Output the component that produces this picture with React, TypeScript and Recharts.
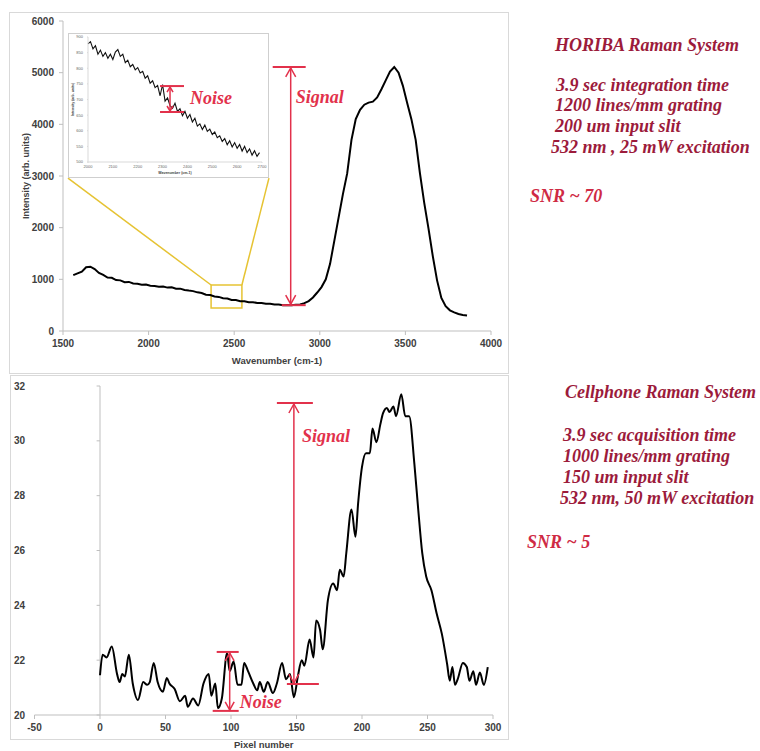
import React from 'react';
import { LineChart, Line, XAxis, YAxis, ReferenceLine, ReferenceArea } from 'recharts';

// HORIBA spectrum (wavenumber, intensity)
const horibaWavenumber = [
  1560, 1585, 1610, 1635, 1660, 1685, 1710, 1735, 1760, 1785, 1810, 1835, 1860, 1885, 1910, 1935,
  1960, 1985, 2010, 2035, 2060, 2085, 2110, 2135, 2160, 2185, 2210, 2235, 2260, 2285, 2310, 2335,
  2360, 2385, 2410, 2435, 2460, 2485, 2510, 2535, 2560, 2585, 2610, 2635, 2660, 2685, 2710, 2735,
  2760, 2785, 2810, 2835, 2860, 2885, 2910, 2935, 2960, 2985, 3010, 3035, 3060, 3085, 3110, 3135,
  3160, 3185, 3210, 3235, 3260, 3285, 3310, 3335, 3360, 3385, 3410, 3435, 3460, 3485, 3510, 3535,
  3560, 3585, 3610, 3635, 3660, 3685, 3710, 3735, 3760, 3785, 3810, 3835, 3860,
];
const horibaIntensity = [
  1080, 1115, 1150, 1235, 1245, 1200, 1125, 1085, 1035, 1030, 985, 980, 945, 950, 920, 915,
  895, 900, 875, 872, 858, 860, 840, 845, 818, 820, 795, 782, 772, 748, 735, 702,
  695, 668, 660, 635, 628, 600, 598, 576, 574, 556, 558, 540, 542, 526, 528, 512,
  514, 500, 502, 498, 508, 515, 540, 578, 648, 745, 850, 1000, 1300, 1750, 2200, 2650,
  3050, 3700, 4100, 4280, 4380, 4420, 4440, 4520, 4680, 4850, 5020, 5110, 5000, 4750, 4420, 4100,
  3700, 3050, 2480, 1980, 1450, 980, 640, 480, 400, 360, 330, 310, 300,
];

// zoomed baseline shown in the inset
const insetWavenumber = [
  2000, 2010, 2020, 2030, 2040, 2050, 2060, 2070, 2080, 2090, 2100, 2110, 2120, 2130, 2140, 2150,
  2160, 2170, 2180, 2190, 2200, 2210, 2220, 2230, 2240, 2250, 2260, 2270, 2280, 2290, 2300, 2310,
  2320, 2330, 2340, 2350, 2360, 2370, 2380, 2390, 2400, 2410, 2420, 2430, 2440, 2450, 2460, 2470,
  2480, 2490, 2500, 2510, 2520, 2530, 2540, 2550, 2560, 2570, 2580, 2590, 2600, 2610, 2620, 2630,
  2640, 2650, 2660, 2670, 2680, 2690,
];
const insetIntensity = [
  878, 885, 862, 872, 845, 858, 838, 850, 832, 845, 828, 852, 860, 838, 845, 818,
  826, 805, 812, 795, 802, 785, 790, 768, 776, 752, 760, 738, 745, 712, 748, 695,
  705, 680, 672, 688, 662, 670, 648, 662, 640, 652, 628, 640, 615, 622, 604, 618,
  598, 605, 588, 596, 578, 584, 566, 575, 555, 568, 548, 562, 544, 556, 535, 550,
  530, 542, 522, 536, 518, 530,
];

// cellphone spectrum (pixel, counts)
const cellPixel = [
  0, 2, 5, 9, 13, 15, 17, 19, 22, 25, 29, 33, 36, 38, 41, 44, 48, 51, 53, 57, 61, 65, 67, 71, 75,
  79, 83, 85, 88, 90, 93, 97, 99, 102, 105, 108, 110, 113, 117, 120, 122, 125, 128, 132, 135, 139,
  142, 145, 148, 151, 154, 156, 160, 163, 165, 168, 170, 174, 178, 181, 183, 186, 188, 192, 195,
  197, 200, 203, 206, 208, 211, 214, 216, 219, 221, 224, 226, 230, 233, 236, 240, 243, 246, 249,
  253, 257, 261, 265, 267, 269, 271, 273, 277, 280, 282, 285, 287, 290, 293, 296,
];
const cellSignal = [
  21.45, 22.2, 22.1, 22.5, 21.5, 21.2, 21.5, 21.4, 22.2, 21.15, 20.55, 21.2, 21.1, 21.2, 21.9, 21.2,
  20.85, 21.35, 21.15, 20.95, 20.5, 20.7, 20.3, 20.6, 20.35, 21.15, 21.5, 20.7, 21.15, 20.25, 20.6,
  22.25, 21.6, 21.95, 21.1, 21.1, 21.9, 21.6, 21.15, 20.9, 21.2, 20.85, 21.2, 20.8, 21.15, 21.9,
  21.3, 21.5, 20.65, 21.4, 22.0, 21.8, 22.75, 22.1, 23.45, 23.1, 22.4, 24.2, 24.8, 24.55, 25.3,
  25.05, 25.9, 27.5, 26.5, 27.7, 29.05, 29.55, 29.55, 30.45, 29.95, 30.6, 31.0, 31.2, 31.05, 31.25,
  30.9, 31.7, 30.9, 30.9, 29.15, 27.45, 25.9, 25.05, 24.55, 23.7, 22.95, 21.85, 21.25, 21.75, 21.1,
  21.3, 21.9, 21.75, 21.25, 21.6, 21.1, 21.55, 21.1, 21.75,
];

const horibaXTicks = [1500, 2000, 2500, 3000, 3500, 4000];
const horibaYTicks = [0, 1000, 2000, 3000, 4000, 5000, 6000];
const insetXTicks = [2000, 2100, 2200, 2300, 2400, 2500, 2600, 2700];
const insetYTicks = [500, 550, 600, 650, 700, 750, 800, 850, 900];
const cellXTicks = [-50, 0, 50, 100, 150, 200, 250, 300];
const cellYTicks = [20, 22, 24, 26, 28, 30, 32];

const horibaRows = horibaWavenumber.map((x, i) => ({ x, y: horibaIntensity[i] }));
const insetRows = insetWavenumber.map((x, i) => ({ x, y: insetIntensity[i] }));
const cellRows = cellPixel.map((x, i) => ({ x, y: cellSignal[i] }));

const AXIS_FONT = '"Liberation Sans", Arial, sans-serif';
const SERIF = '"Liberation Serif", "Times New Roman", serif';
const RED = '#e2314b';
const DARK_RED = '#9c1b3b';
const GOLD = '#e6c333';
const GRID = '#bfbfbf';

const tickStyle = { fill: '#404040', fontSize: 10, fontWeight: 700, fontFamily: AXIS_FONT };
const insetTick = { fill: '#666', fontSize: 4, fontFamily: AXIS_FONT };

// axis title helpers
const xTitle = (text: string, dy: number, size: number) => (p: any) => {
  const vb = p.viewBox;
  return (
    <text x={vb.x + vb.width / 2} y={vb.y + dy} textAnchor="middle" dominantBaseline="central"
      fontSize={size} fontWeight={700} fontFamily={AXIS_FONT} fill="#404040">{text}</text>
  );
};
const yTitle = (text: string, x: number, size: number) => (p: any) => {
  const vb = p.viewBox;
  const cy = vb.y + vb.height / 2;
  return (
    <text x={x} y={cy} transform={`rotate(-90, ${x}, ${cy})`} textAnchor="middle" dominantBaseline="central"
      fontSize={size} fontWeight={700} fontFamily={AXIS_FONT} fill="#404040">{text}</text>
  );
};

// double headed arrow with end caps and a label
type ArrowOpts = { top: [number, number]; bot: [number, number]; label: string; dx: number; dy: number; head: number };
const arrowShape = (o: ArrowOpts) => (p: any) => {
  const x = p.x1;
  const t = Math.min(p.y1, p.y2);
  const b = Math.max(p.y1, p.y2);
  const h = o.head;
  const w = h * 0.5;
  return (
    <g>
      <line x1={x} x2={x} y1={t} y2={b} stroke={RED} strokeWidth={1.5} />
      <line x1={x + o.top[0]} x2={x + o.top[1]} y1={t} y2={t} stroke={RED} strokeWidth={2} />
      <line x1={x + o.bot[0]} x2={x + o.bot[1]} y1={b} y2={b} stroke={RED} strokeWidth={2} />
      <polyline points={`${x - w},${t + h} ${x},${t + 1} ${x + w},${t + h}`} fill="none" stroke={RED} strokeWidth={1.5} />
      <polyline points={`${x - w},${b - h} ${x},${b - 1} ${x + w},${b - h}`} fill="none" stroke={RED} strokeWidth={1.5} />
      <text x={x + o.dx} y={t + o.dy} dominantBaseline="central" fontFamily={SERIF} fontStyle="italic"
        fontWeight={700} fontSize={18} fill={RED}>{o.label}</text>
    </g>
  );
};

const sideText = (text: string, left: number, center: number, color = DARK_RED) => (
  <div key={text} style={{
    position: 'absolute', left, top: center - 11, height: 22, lineHeight: '22px', whiteSpace: 'nowrap',
    fontFamily: SERIF, fontStyle: 'italic', fontWeight: 700, fontSize: 18, color,
  }}>{text}</div>
);

export default function App() {
  return (
    <div style={{ position: 'absolute', left: 0, top: 0, width: 760, height: 751, overflow: 'hidden', background: '#fff' }}>
      {/* panel frames */}
      <div style={{ position: 'absolute', left: 9, top: 12, width: 500, height: 362, border: '1px solid #d9d9d9', boxSizing: 'border-box' }} />
      <div style={{ position: 'absolute', left: 10, top: 375, width: 499, height: 365, border: '1px solid #d9d9d9', boxSizing: 'border-box' }} />

      {/* HORIBA panel */}
      <div style={{ position: 'absolute', left: 0, top: 0 }}>
        <LineChart width={509} height={374} data={horibaRows} margin={{ top: 21, right: 18, left: 0, bottom: 0 }}>
          <XAxis type="number" dataKey="x" domain={[1500, 4000]} ticks={horibaXTicks} interval={0}
            height={43} tickSize={4} tickMargin={5} stroke={GRID} tick={tickStyle}
            label={xTitle('Wavenumber (cm-1)', 29, 9.5)} />
          <YAxis type="number" domain={[0, 6000]} ticks={horibaYTicks} interval={0}
            width={63} tickSize={4} tickMargin={5} stroke={GRID} tick={tickStyle}
            label={yTitle('Intensity (arb. units)', 26, 9)} />
          <ReferenceArea x1={2365} x2={2545} y1={445} y2={890} fill="none" fillOpacity={0} stroke={GOLD} strokeWidth={1.5} />
          <ReferenceLine segment={[{ x: 1529, y: 2960 }, { x: 2365, y: 890 }]} stroke={GOLD} strokeWidth={1.5} />
          <ReferenceLine segment={[{ x: 2703, y: 2960 }, { x: 2545, y: 890 }]} stroke={GOLD} strokeWidth={1.5} />
          <Line type="linear" dataKey="y" stroke="#000" strokeWidth={2} dot={false} isAnimationActive={false} />
          <ReferenceLine segment={[{ x: 2830, y: 5110 }, { x: 2830, y: 500 }]}
            shape={arrowShape({ top: [-18, 15], bot: [-9, 15], label: 'Signal', dx: 5, dy: 30, head: 10 })} />
        </LineChart>
      </div>

      {/* inset: zoom of the baseline */}
      <div style={{ position: 'absolute', left: 68, top: 33, width: 201, height: 145, border: '1px solid #cfcfcf', boxSizing: 'border-box', background: '#fff' }}>
        <div style={{ position: 'absolute', left: 0, top: 0 }}>
          <LineChart width={199} height={143} data={insetRows} margin={{ top: 3, right: 6, left: 0, bottom: 0 }}>
            <XAxis type="number" dataKey="x" domain={[2000, 2700]} ticks={insetXTicks} interval={0}
              height={15} tickSize={1} tickMargin={2} stroke="#d9d9d9" tick={insetTick}
              label={xTitle('Wavenumber (cm-1)', 11, 3.5)} />
            <YAxis type="number" domain={[500, 900]} ticks={insetYTicks} interval={0}
              width={19} tickSize={1} tickMargin={4} stroke="#d9d9d9" tick={insetTick}
              label={yTitle('Intensity (arb. units)', 4, 3.5)} />
            <Line type="linear" dataKey="y" stroke="#111" strokeWidth={1.1} dot={false} isAnimationActive={false} />
            <ReferenceLine segment={[{ x: 2330, y: 743 }, { x: 2330, y: 660 }]}
              shape={arrowShape({ top: [-10, 14], bot: [-10, 14], label: 'Noise', dx: 20, dy: 12, head: 6 })} />
          </LineChart>
        </div>
      </div>

      {/* Cellphone panel */}
      <div style={{ position: 'absolute', left: 0, top: 375 }}>
        <LineChart width={509} height={376} data={cellRows} margin={{ top: 11, right: 16, left: 0, bottom: 0 }}>
          <XAxis type="number" dataKey="x" domain={[-50, 300]} ticks={cellXTicks} interval={0}
            height={36} tickSize={4} tickMargin={5} stroke={GRID} tick={tickStyle}
            label={xTitle('Pixel number', 29, 9.5)} />
          <YAxis type="number" domain={[20, 32]} ticks={cellYTicks} interval={0}
            width={34.5} tickSize={0} tickMargin={9.5} axisLine={false} tickLine={false} tick={tickStyle} />
          <ReferenceLine x={0} stroke={GRID} strokeWidth={1} />
          {cellYTicks.map((t) => (
            <ReferenceLine key={t} segment={[{ x: -2.6, y: t }, { x: 0, y: t }]} stroke={GRID} strokeWidth={1} />
          ))}
          <Line type="monotone" dataKey="y" stroke="#000" strokeWidth={2} dot={false} isAnimationActive={false} />
          <ReferenceLine segment={[{ x: 148, y: 31.38 }, { x: 148, y: 21.13 }]}
            shape={arrowShape({ top: [-17, 19], bot: [-7, 25], label: 'Signal', dx: 8, dy: 33, head: 10 })} />
          <ReferenceLine segment={[{ x: 99, y: 22.3 }, { x: 99, y: 20.15 }]}
            shape={arrowShape({ top: [-13, 9], bot: [-17, 9], label: 'Noise', dx: 10, dy: 50, head: 9 })} />
        </LineChart>
      </div>

      {/* side notes */}
      {sideText('HORIBA Raman System', 555, 45)}
      {sideText('3.9 sec integration time', 556, 85)}
      {sideText('1200 lines/mm grating', 555, 105)}
      {sideText('200 um input slit', 555, 126)}
      {sideText('532 nm , 25 mW excitation', 551, 147)}
      {sideText('SNR ~ 70', 530, 196, '#cf2a44')}

      {sideText('Cellphone Raman System', 565, 392)}
      {sideText('3.9 sec acquisition time', 563, 435)}
      {sideText('1000 lines/mm grating', 563, 456)}
      {sideText('150 um input slit', 563, 477)}
      {sideText('532 nm, 50 mW excitation', 560, 498)}
      {sideText('SNR ~ 5', 527, 542, '#cf2a44')}
    </div>
  );
}
